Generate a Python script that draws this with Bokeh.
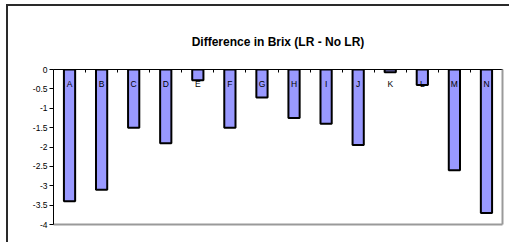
from bokeh.plotting import figure
from bokeh.models import (Range1d, LinearAxis, FixedTicker, ColumnDataSource)
from bokeh.core.properties import value
from bokeh.embed import file_html
from bokeh.resources import INLINE

# ---- data ----
categories = ["A", "B", "C", "D", "E", "F", "G", "H", "I", "J", "K", "L", "M", "N"]
diff = [-3.4, -3.1, -1.5, -1.9, -0.28, -1.5, -0.72, -1.25, -1.4, -1.95, -0.07, -0.4, -2.6, -3.7]
y_ticks = [0, -0.5, -1, -1.5, -2, -2.5, -3, -3.5, -4]
y_tick_labels = ["0", "-0.5", "-1", "-1.5", "-2", "-2.5", "-3", "-3.5", "-4"]
title_text = "Difference in Brix (LR - No LR)"

FONT = "Liberation Sans"
W, H = 503, 238
n = len(categories)

p = figure(width=W, height=H,
           x_range=Range1d(0, n),
           y_range=Range1d(-4, 0),
           output_backend="svg", toolbar_location=None,
           min_border_left=45, min_border_right=9,
           min_border_top=63, min_border_bottom=20)

# category slot centres (one slot per category)
xc = [i + 0.5 for i in range(n)]
src = ColumnDataSource(dict(x=xc, cat=categories, diff=diff,
                            ly=[-0.37] * n))

p.vbar(x="x", top=0, bottom="diff", width=0.35, source=src,
       fill_color="#9999FF", line_color="black", line_width=2)

p.text(x="x", y="ly", text="cat", source=src,
       text_align="center", text_baseline="middle",
       text_font=value(FONT), text_font_size="8.5px", text_color="black")

# left y axis
ya = p.yaxis[0]
ya.ticker = FixedTicker(ticks=y_ticks)
ya.major_label_overrides = {t: s for t, s in zip(y_ticks, y_tick_labels)}
ya.major_tick_out = 4
ya.major_tick_in = 0
ya.minor_tick_out = 0
ya.minor_tick_in = 0
ya.major_label_standoff = 2
ya.major_label_text_font = FONT
ya.major_label_text_font_size = "8.5px"
ya.major_label_text_color = "black"
ya.axis_line_color = "black"
ya.major_tick_line_color = "black"

# bottom border (grey)
xa = p.xaxis[0]
xa.ticker = FixedTicker(ticks=[])
xa.axis_line_color = "#9a9a9a"
xa.axis_line_width = 2

# right border (grey)
ra = LinearAxis(ticker=FixedTicker(ticks=[]),
                axis_line_color="#9a9a9a", axis_line_width=2)
p.add_layout(ra, "right")

# category axis at zero (top), ticks between categories
ticks_top = list(range(n + 1))
ta = LinearAxis(ticker=FixedTicker(ticks=ticks_top),
                major_tick_in=3, major_tick_out=0,
                minor_tick_line_color=None,
                major_label_overrides={t: "" for t in ticks_top},
                axis_line_color="black", major_tick_line_color="black")
p.add_layout(ta, "above")

p.grid.visible = False
p.outline_line_color = None
p.background_fill_color = "white"
p.border_fill_color = "white"

p.title.text = title_text
p.title.align = "center"
p.title.text_font = FONT
p.title.text_font_size = "12px"
p.title.text_font_style = "bold"
p.title.text_color = "black"
p.title.standoff = 41
p.title.offset = -14

p.styles = {"margin-left": "6px", "margin-top": "4px",
            "border-top": "2px solid #2a2a2a", "border-left": "2px solid #2a2a2a"}

open("out.html", "w").write(file_html(p, INLINE))
